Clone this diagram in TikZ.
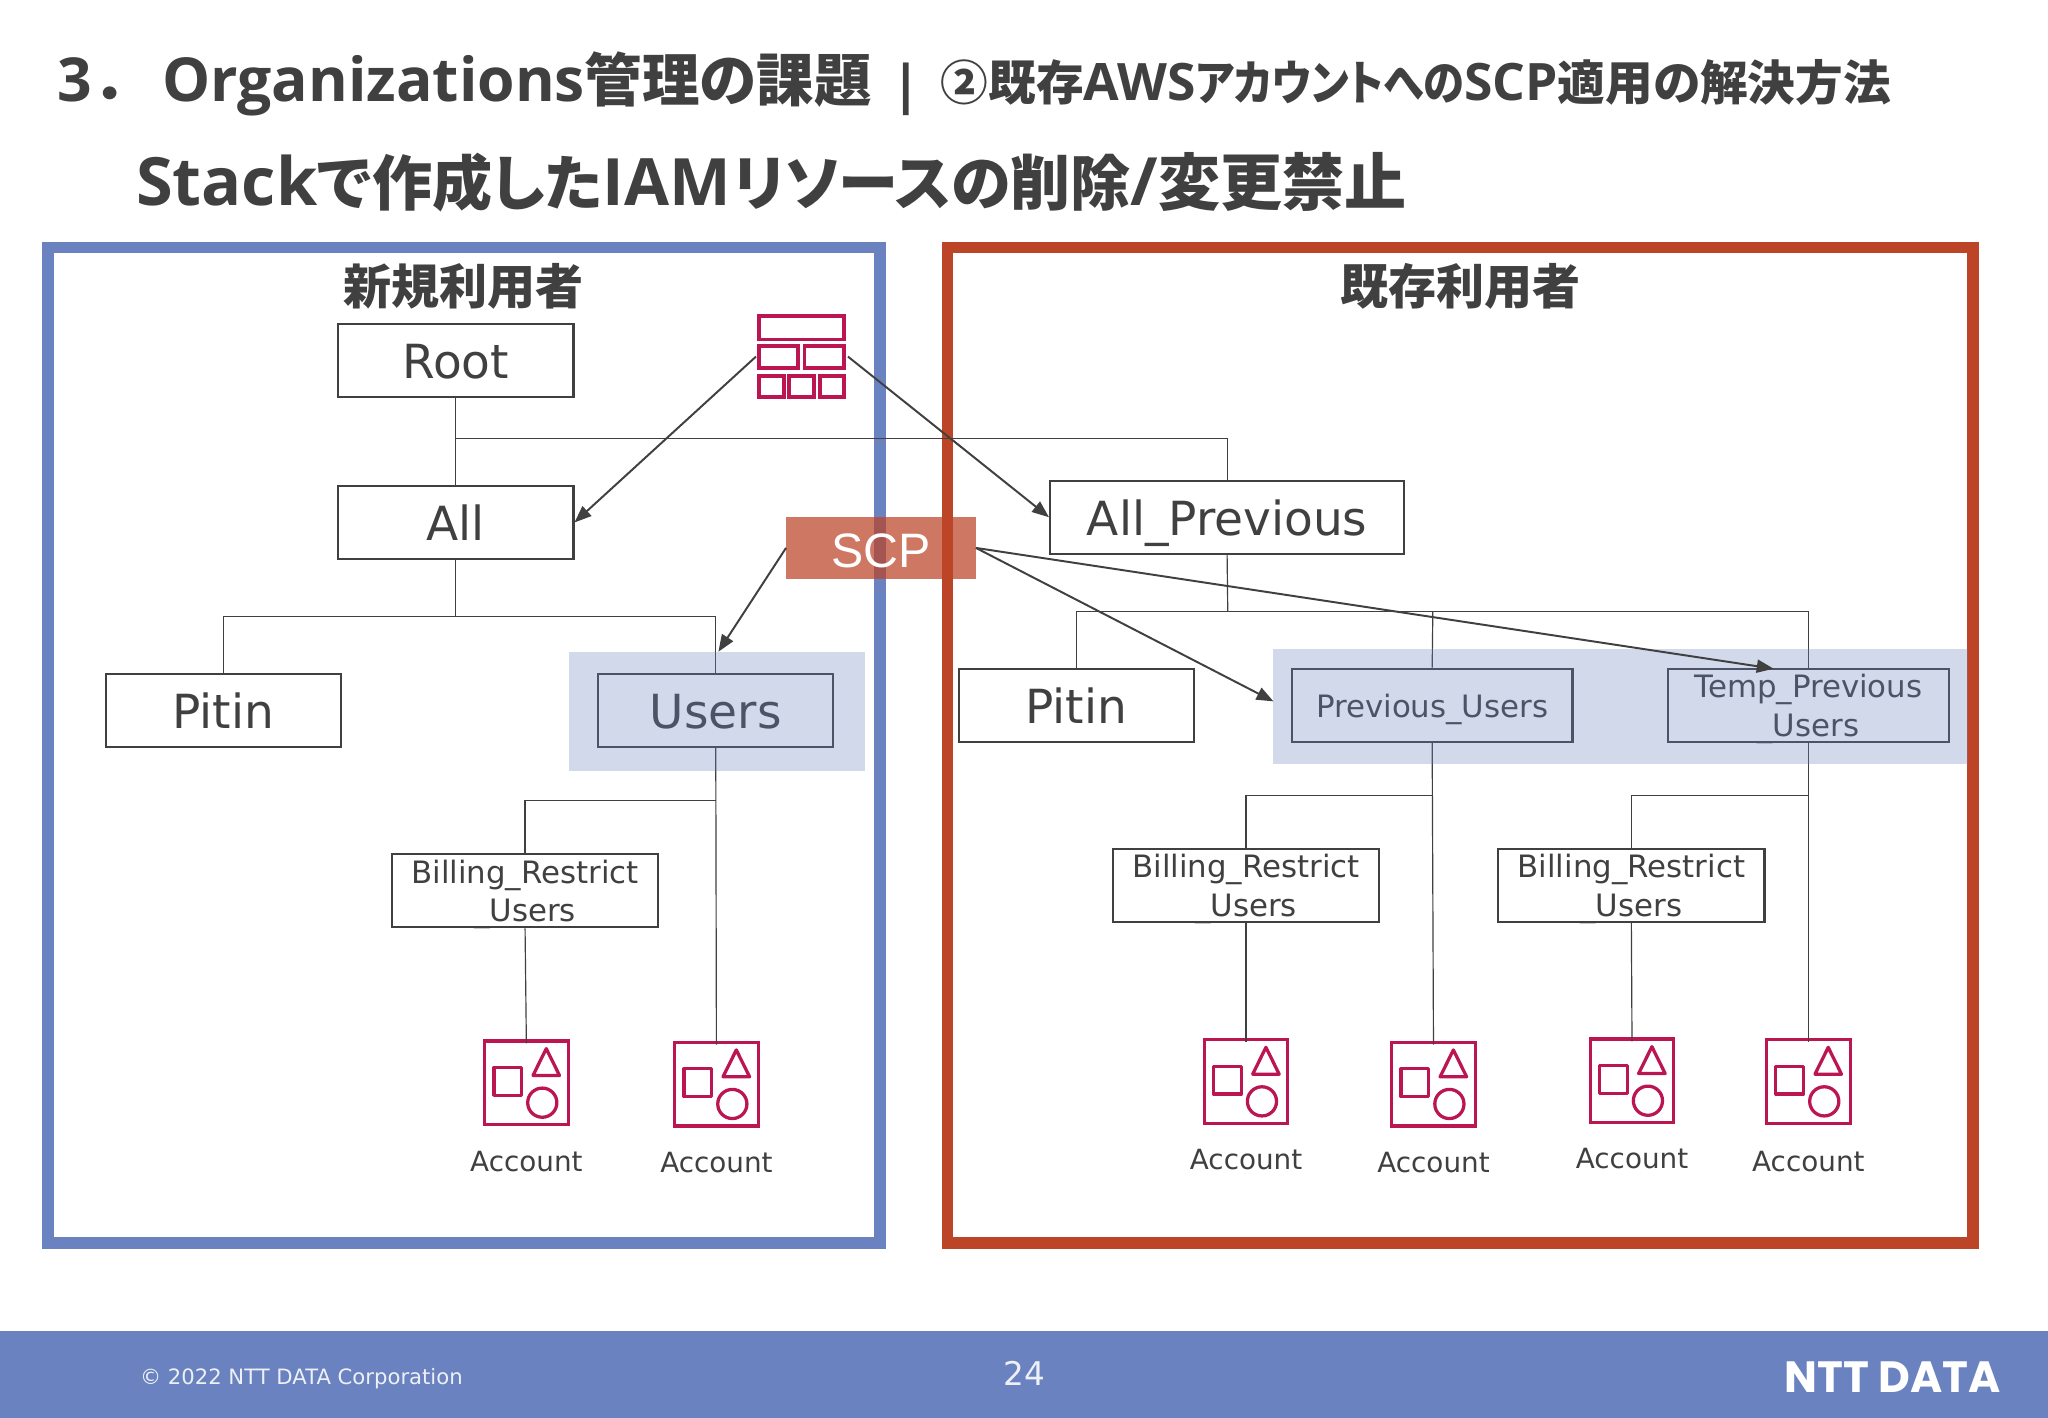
\documentclass[tikz,border=0pt]{standalone}
\usepackage{fontspec}
\usepackage{graphicx}
\usetikzlibrary{arrows.meta}
\setmainfont{DejaVu Sans}
\newfontfamily\jpf{Noto Sans CJK JP}[RawFeature={+palt}]
\newfontfamily\ltf{Open Sans}
\newfontfamily\arf{Liberation Sans}
\newfontfamily\lgf{Poppins}
\definecolor{ink}{HTML}{404040}
\definecolor{nblue}{HTML}{6A82BF}
\definecolor{nred}{HTML}{BC4527}
\definecolor{mag}{HTML}{BC1652}
\newcommand{\fsz}[2]{\fontsize{#1}{#2}\selectfont}
\newcommand{\acct}[4]{%
  \node[draw=mag,line width=2.5pt,minimum size=64pt,inner sep=0pt] (#1) at (#2,#3) {};
  \begin{scope}[shift={(#2,#3)},x=0.2538pt,y=-0.2538pt,draw=mag,line width=2.5pt,line join=round]
    \draw (-98,-46) rectangle (-14,38);
    \draw (60,-103) -- (20,-22) -- (100,-22) -- cycle;
    \draw (48,60) circle [radius=44];
  \end{scope}
  \node[lab,font=\fsz{21.3}{24}] (#1l) at (#2,#4) {Account};
}
\tikzset{
  x=1pt,y=-1pt,
  lab/.style={text=ink,inner sep=0pt},
  box/.style={draw=ink,line width=1.7pt,fill=white,text=ink,inner sep=0pt,align=center},
  bigbox/.style={box,minimum width=180pt,minimum height=56pt,font=\fsz{36}{40},text height=28pt,text depth=0pt},
  smallbox/.style={box,minimum width=204pt,minimum height=56pt,font=\fsz{23.6}{29.6},text depth=0pt},
  wire/.style={draw=ink,line width=0.9pt},
  arr/.style={draw=ink,line width=1.5pt,-{Triangle[length=13pt,width=10pt]}},
  hl/.style={fill=nblue,fill opacity=0.3,draw=none},
  org/.style={draw=mag,line width=2.8pt}
}
\begin{document}
\begin{tikzpicture}
\useasboundingbox (0,0) rectangle (1568,1085.6);
\fill[white] (0,0) rectangle (1568,1085.6);
% footer
\fill[nblue] (0,1019) rectangle (1568,1085.6);
\node[anchor=base west,text=white!88!nblue,inner sep=0pt,font=\fsz{16.2}{20}] (copy) at (107,1060) {© 2022 NTT DATA Corporation};
\node[anchor=base,text=white!88!nblue,inner sep=0pt,font=\fsz{25}{28}] (page) at (784,1061) {24};
\node[anchor=base west,text=white,inner sep=0pt,font=\lgf\bfseries\fsz{33.5}{36}] (logo) at (1366,1066) {NTT DATA};
% titles
\node[anchor=base west,lab,font=\ltf\bfseries] (t1) at (44,78) {\fsz{46.4}{46}3\hspace{7pt}{\jpf\bfseries\fsz{45}{46}．}\hspace{24pt}Organizations{\jpf\bfseries\fsz{44}{46}管理の課題}};
\node[anchor=base,lab,font=\ltf\bfseries\fsz{41}{46}] (t2) at (694,79) {|};
\node[anchor=base west,lab,font=\ltf\bfseries] (t3) at (720,77) {\fsz{39.5}{40}{\jpf\bfseries\fsz{36.5}{40}②既存}AWS\scalebox{0.865}[1]{\jpf\bfseries\fsz{36.5}{40}アカウントへの}SCP{\jpf\bfseries\fsz{36.5}{40}適用の解決方法}};
\node[anchor=base west,lab,font=\ltf\bfseries] (t4) at (104,157) {\fsz{51}{50}Stack{\jpf\bfseries\fsz{46}{50}で作成した}{\fsz{50}{50}IAM}\hspace{2pt}{\jpf\bfseries\fsz{46}{50}リソースの削除}/{\jpf\bfseries\fsz{47.5}{50}変更禁止}};
% frames
\node[draw=nblue,line width=9pt,minimum width=637pt,minimum height=762pt,inner sep=0pt] (fb) at (355.5,570.5) {};
\node[draw=nred,line width=9pt,minimum width=785pt,minimum height=762pt,inner sep=0pt] (fr) at (1118,570.5) {};
\node[lab,font=\jpf\bfseries\fsz{36.8}{40}] (hb) at (355,219) {新規利用者};
\node[lab,font=\jpf\bfseries\fsz{36.8}{40}] (hr) at (1118,219) {既存利用者};
% boxes
\node[bigbox] (root) at (349,276) {Root};
\node[bigbox] (all) at (349,400) {All};
\node[bigbox] (pl) at (171,544) {Pitin};
\node[bigbox] (users) at (548,544) {Users};
\node[smallbox] (bl) at (402,682) {Billing\_Restrict\\\_Users};
\node[bigbox,minimum width=271pt] (ap) at (939.5,396) {All\_Previous};
\node[bigbox] (pr) at (824,540) {Pitin};
\node[smallbox,minimum width=215pt] (pu) at (1096.5,540) {Previous\_Users};
\node[smallbox,minimum width=215pt] (tp) at (1384.5,540) {Temp\_Previous\\\_Users};
\node[smallbox] (br1) at (954,678) {Billing\_Restrict\\\_Users};
\node[smallbox] (br2) at (1249,678) {Billing\_Restrict\\\_Users};
% accounts
\acct{a1}{403}{829}{889}
\acct{a2}{548.5}{830}{890}
\acct{a3}{954}{828}{888}
\acct{a4}{1097.5}{830}{890}
\acct{a5}{1249.5}{827.5}{887}
\acct{a6}{1384.5}{828}{889}
% junctions
\coordinate (j1) at (349,336);
\coordinate (j2) at (349,472);
\coordinate (j3) at (548,613);
\coordinate (j4) at (940,468);
\coordinate (j5) at (1097,609);
\coordinate (j6) at (1385,609);
\coordinate (j7) at (1097,468);
% connectors
\draw[wire] (root.south) -- (all.north);
\draw[wire] (j1) -| (ap.north);
\draw[wire] (all.south) -- (j2);
\draw[wire] (pl.north) |- (j2) -| (users.north);
\draw[wire] (users.south) -- ([yshift=-3pt]a2.north);
\draw[wire] (j3) -| (bl.north);
\draw[wire] (bl.south) -- ([yshift=-3pt]a1.north);
\draw[wire] (ap.south) -- (j4);
\draw[wire] (pr.north) |- (j4) -| (tp.north);
\draw[wire] (j7) -- (pu.north);
\draw[wire] (pu.south) -- ([yshift=-3pt]a4.north);
\draw[wire] (j5) -| (br1.north);
\draw[wire] (br1.south) -- ([yshift=-3pt]a3.north);
\draw[wire] (tp.south) -- ([yshift=-3pt]a6.north);
\draw[wire] (j6) -| (br2.north);
\draw[wire] (br2.south) -- ([yshift=-3pt]a5.north);
% highlights
\node[hl,minimum width=226pt,minimum height=91pt,inner sep=0pt] (hu) at (549,544.5) {};
\node[hl,minimum width=532pt,minimum height=88pt,inner sep=0pt] (hp) at (1241,541) {};
% org icon
\node[minimum width=70pt,minimum height=66pt,inner sep=0pt] (oi) at (614,273) {};
\draw[org] (581,242) rectangle (646,260);
\draw[org] (581,265) rectangle (611,282);
\draw[org] (616,265) rectangle (646,282);
\draw[org] (581,288) rectangle (600,304);
\draw[org] (604,288) rectangle (623,304);
\draw[org] (628,288) rectangle (646,304);
% SCP
\node[fill=nred,fill opacity=0.72,text opacity=1,text=white,minimum width=145pt,minimum height=47pt,inner sep=0pt,font=\arf\fsz{37}{40},text height=30pt,text depth=0pt] (scp) at (674.5,419.5) {SCP};
% arrows
\coordinate (e1) at (550,499);
\coordinate (e2) at (975,537);
\coordinate (e3) at (1358,512);
\draw[arr] (oi.west) -- (all.east);
\draw[arr] (oi.east) -- (ap.west);
\draw[arr] (scp.west) -- (e1);
\draw[arr] (scp.east) -- (e2);
\draw[arr] (scp.east) -- (e3);
\end{tikzpicture}
\end{document}
